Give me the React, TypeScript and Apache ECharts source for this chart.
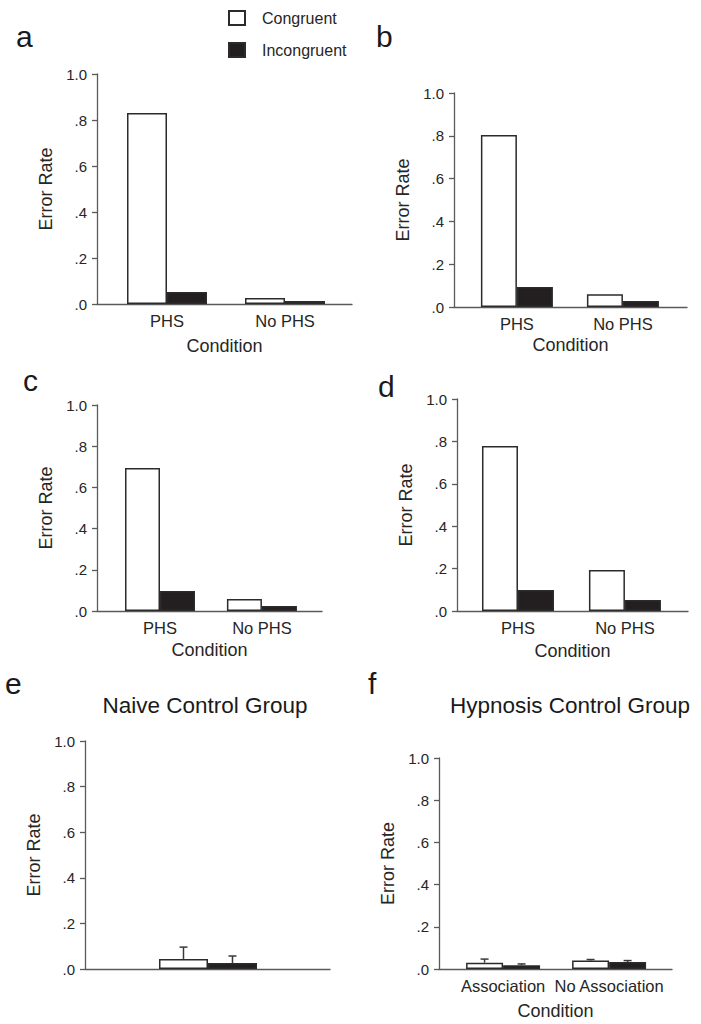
import React, { useEffect, useRef } from "react";
import * as echarts from "echarts";

// ---------- data ----------
const seriesNames = ["Congruent", "Incongruent"];
const phsCategories = ["PHS", "No PHS"];
const controlCategoriesE = [""];
const controlCategoriesF = ["Association", "No Association"];

const congruentA = [0.83, 0.026];
const incongruentA = [0.052, 0.013];
const congruentB = [0.804, 0.06];
const incongruentB = [0.093, 0.028];
const congruentC = [0.694, 0.058];
const incongruentC = [0.097, 0.024];
const congruentD = [0.778, 0.193];
const incongruentD = [0.099, 0.052];
const congruentE = [0.044];
const incongruentE = [0.026];
const congruentErrE = [0.052];
const incongruentErrE = [0.031];
const congruentF = [0.03, 0.04];
const incongruentF = [0.018, 0.033];
const congruentErrF = [0.017, 0.005];
const incongruentErrF = [0.006, 0.007];

const panelTitleE = "Naive Control Group";
const panelTitleF = "Hypnosis Control Group";

// ---------- layout ----------
const FONT = "'Liberation Sans', Arial, Helvetica, sans-serif";
const AXIS_COLOR = "#5a5a5a";
const TEXT_COLOR = "#262626";
const BAR_BORDER = "#2b2b2b";
const BAR_DARK = "#231f20";

type Panel = {
  letter: string;
  letterPos: [number, number];
  title?: string;
  titleCenter?: [number, number];
  left: number;
  right: number;
  top: number;
  height: number;
  groupPos: number[];
  barWidth: number;
  categories: string[];
  cong: number[];
  incong: number[];
  congErr?: number[];
  incongErr?: number[];
  xName: string;
  xNameGap: number;
};

const panels: Panel[] = [
  { letter: "a", letterPos: [16, 21], left: 97, right: 349, top: 74, height: 230, groupPos: [0.2745, 0.7373], barWidth: 40, categories: phsCategories, cong: congruentA, incong: incongruentA, xName: "Condition", xNameGap: 33 },
  { letter: "b", letterPos: [376, 21], left: 454, right: 14, top: 93, height: 214, groupPos: [0.27, 0.725], barWidth: 36, categories: phsCategories, cong: congruentB, incong: incongruentB, xName: "Condition", xNameGap: 29 },
  { letter: "c", letterPos: [23, 365], left: 97, right: 379, top: 405, height: 206, groupPos: [0.28, 0.733], barWidth: 35, categories: phsCategories, cong: congruentC, incong: incongruentC, xName: "Condition", xNameGap: 30 },
  { letter: "d", letterPos: [378, 371], left: 457, right: 13, top: 399, height: 212, groupPos: [0.264, 0.727], barWidth: 36, categories: phsCategories, cong: congruentD, incong: incongruentD, xName: "Condition", xNameGap: 31 },
  { letter: "e", letterPos: [5, 668], title: panelTitleE, titleCenter: [205, 694], left: 85, right: 371, top: 741, height: 228, groupPos: [0.502], barWidth: 49, categories: controlCategoriesE, cong: congruentE, incong: incongruentE, congErr: congruentErrE, incongErr: incongruentErrE, xName: "", xNameGap: 30 },
  { letter: "f", letterPos: [368, 668], title: panelTitleF, titleCenter: [570, 694], left: 439, right: 29, top: 758, height: 211, groupPos: [0.275, 0.73], barWidth: 37, categories: controlCategoriesF, cong: congruentF, incong: incongruentF, congErr: congruentErrF, incongErr: incongruentErrF, xName: "Condition", xNameGap: 33 },
];

function tickFmt(v: number) {
  if (v >= 1) return "1.0";
  return "." + Math.round(v * 10);
}

function buildOption() {
  const grid: any[] = [];
  const xAxis: any[] = [];
  const yAxis: any[] = [];
  const series: any[] = [];
  const title: any[] = [];

  panels.forEach((p, i) => {
    grid.push({ left: p.left, right: p.right, top: p.top, height: p.height, containLabel: false });
    const pos = p.groupPos;
    xAxis.push({
      type: "value",
      gridIndex: i,
      min: 0,
      max: 1,
      axisLine: { show: true, lineStyle: { color: AXIS_COLOR, width: 1.3 } },
      axisTick: { show: false },
      splitLine: { show: false },
      axisLabel: {
        show: p.categories.some((c) => c !== ""),
        customValues: pos,
        margin: 8,
        fontSize: 16.5,
        color: TEXT_COLOR,
        fontFamily: FONT,
        formatter: (v: number) => {
          let best = 0;
          pos.forEach((q, k) => {
            if (Math.abs(q - v) < Math.abs(pos[best] - v)) best = k;
          });
          return p.categories[best];
        },
      },
      name: p.xName,
      nameLocation: "middle",
      nameGap: p.xNameGap,
      nameTextStyle: { fontSize: 18, color: TEXT_COLOR, fontFamily: FONT },
    });
    yAxis.push({
      type: "value",
      gridIndex: i,
      min: 0,
      max: 1,
      interval: 0.2,
      axisLine: { show: true, lineStyle: { color: AXIS_COLOR, width: 1.3 } },
      axisTick: { show: true, inside: false, length: 5, lineStyle: { color: AXIS_COLOR, width: 1.3 } },
      splitLine: { show: false },
      axisLabel: { formatter: tickFmt, fontSize: 15, color: TEXT_COLOR, fontFamily: FONT, margin: 10 },
      name: "Error Rate",
      nameLocation: "middle",
      nameRotate: 90,
      nameGap: 42,
      nameTextStyle: { fontSize: 18, color: TEXT_COLOR, fontFamily: FONT },
    });

    const congData = pos.map((x, k) => [x, p.cong[k]]);
    const incData = pos.map((x, k) => [x, p.incong[k]]);
    series.push({
      name: seriesNames[0],
      type: "bar",
      xAxisIndex: i,
      yAxisIndex: i,
      barWidth: p.barWidth,
      barGap: "0%",
      data: congData,
      itemStyle: { color: "#ffffff", borderColor: BAR_BORDER, borderWidth: 1.5 },
    });
    series.push({
      name: seriesNames[1],
      type: "bar",
      xAxisIndex: i,
      yAxisIndex: i,
      barWidth: p.barWidth,
      barGap: "0%",
      data: incData,
      itemStyle: { color: BAR_DARK, borderColor: BAR_BORDER, borderWidth: 1.5 },
    });

    if (p.congErr && p.incongErr) {
      const errSets = [
        { vals: p.cong, errs: p.congErr, offset: -p.barWidth / 2 },
        { vals: p.incong, errs: p.incongErr, offset: p.barWidth / 2 },
      ];
      errSets.forEach((s) => {
        series.push({
          type: "custom",
          xAxisIndex: i,
          yAxisIndex: i,
          z: 5,
          silent: true,
          data: pos.map((x, k) => [x, s.vals[k], s.errs[k]]),
          encode: { x: 0, y: 1 },
          renderItem: (params: any, api: any) => {
            const x = api.value(0);
            const y = api.value(1);
            const e = api.value(2);
            const base = api.coord([x, y]);
            const topPt = api.coord([x, y + e]);
            const cx = base[0] + s.offset;
            const style = { stroke: "#3a3a3a", lineWidth: 1.5 };
            return {
              type: "group",
              children: [
                { type: "line", shape: { x1: cx, y1: base[1], x2: cx, y2: topPt[1] }, style },
                { type: "line", shape: { x1: cx - 4, y1: topPt[1], x2: cx + 4, y2: topPt[1] }, style },
              ],
            };
          },
        });
      });
    }

    title.push({
      text: p.letter,
      left: p.letterPos[0],
      top: p.letterPos[1],
      padding: 0,
      textStyle: { fontSize: 30, fontWeight: "normal", color: "#1a1a1a", fontFamily: FONT },
    });
    if (p.title && p.titleCenter) {
      title.push({
        text: p.title,
        left: p.titleCenter[0],
        top: p.titleCenter[1],
        textAlign: "center",
        padding: 0,
        textStyle: { fontSize: 22.5, fontWeight: "normal", color: "#1a1a1a", fontFamily: FONT },
      });
    }
  });

  return {
    animation: false,
    backgroundColor: "#ffffff",
    textStyle: { fontFamily: FONT },
    title,
    legend: {
      data: seriesNames,
      orient: "vertical",
      left: 228,
      top: 10,
      padding: 0,
      itemWidth: 16,
      itemHeight: 14,
      itemGap: 16,
      icon: "rect",
      selectedMode: false,
      textStyle: { fontSize: 16, color: TEXT_COLOR, fontFamily: FONT, padding: [0, 0, 0, 12] },
    },
    grid,
    xAxis,
    yAxis,
    series,
  };
}

export default function App() {
  const ref = useRef<HTMLDivElement>(null);
  useEffect(() => {
    if (!ref.current) return;
    const chart = echarts.init(ref.current, undefined, { renderer: "svg" });
    chart.setOption(buildOption() as any);
    return () => chart.dispose();
  }, []);
  return (
    <div
      ref={ref}
      style={{ position: "absolute", left: 0, top: 0, width: 701, height: 1024, background: "#fff" }}
    />
  );
}
